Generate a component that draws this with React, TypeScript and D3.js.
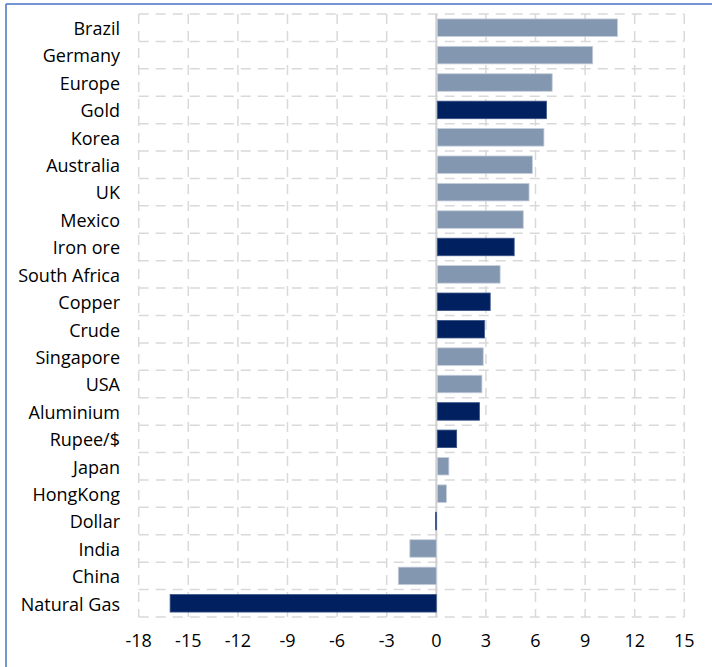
import * as d3 from 'd3'

const categories = [
  'Brazil', 'Germany', 'Europe', 'Gold', 'Korea', 'Australia', 'UK', 'Mexico', 'Iron ore',
  'South Africa', 'Copper', 'Crude', 'Singapore', 'USA', 'Aluminium', 'Rupee/$', 'Japan',
  'HongKong', 'Dollar', 'India', 'China', 'Natural Gas',
]
const values = [
  10.9, 9.4, 6.95, 6.6, 6.45, 5.75, 5.55, 5.2, 4.65, 3.8, 3.2, 2.85, 2.78, 2.7, 2.55, 1.17,
  0.7, 0.55, -0.05, -1.6, -2.3, -16.1,
]
// commodities / currencies are drawn dark
const darkItems = ['Gold', 'Iron ore', 'Copper', 'Crude', 'Aluminium', 'Rupee/$', 'Dollar', 'Natural Gas']
const xTicks = [-18, -15, -12, -9, -6, -3, 0, 3, 6, 9, 12, 15]

const W = 712
const H = 667
const plot = { left: 138.7, right: 684.3, top: 14, bottom: 617 }
const FONT = '"Open Sans", sans-serif'

export default function App() {
  const x = d3.scaleLinear().domain([-18, 15]).range([plot.left, plot.right])
  const y = d3.scaleBand<string>().domain(categories).range([plot.top, plot.bottom]).paddingInner(0.36).paddingOuter(0.18)
  const rows = d3.range(categories.length + 1).map((i) => plot.top + i * ((plot.bottom - plot.top) / categories.length))
  const grid = '#d9d9d9'

  return (
    <svg width={W} height={H} style={{ position: 'absolute', left: 0, top: 0, background: '#fff' }}>
      {/* frame edges */}
      <line x1={6} x2={W} y1={4} y2={4} stroke="#4472c4" strokeWidth={1.5} />
      <line x1={6} x2={6} y1={4} y2={H} stroke="#4472c4" strokeWidth={1.5} />

      {xTicks.filter((t) => t !== 0).map((t) => (
        <line key={'v' + t} x1={x(t)} x2={x(t)} y1={plot.top} y2={plot.bottom} stroke={grid} strokeWidth={1.5} strokeDasharray="10 7" />
      ))}
      {rows.map((r, i) => (
        <line key={'h' + i} x1={plot.left} x2={plot.right} y1={r} y2={r} stroke={grid} strokeWidth={1.5} strokeDasharray="10 7" />
      ))}
      <line x1={x(0)} x2={x(0)} y1={plot.top} y2={plot.bottom} stroke="#d0d0d0" strokeWidth={2} />

      {categories.map((c, i) => {
        const v = values[i]
        const x0 = x(Math.min(0, v))
        const w = Math.max(1, Math.abs(x(v) - x(0)))
        return (
          <rect
            key={c}
            x={v >= 0 ? x(0) + 1 : x0}
            y={y(c)}
            width={w}
            height={y.bandwidth()}
            fill={darkItems.includes(c) ? '#002060' : '#8497b0'}
            stroke={darkItems.includes(c) ? '#3b5488' : '#c5cfdc'}
            strokeWidth={0.8}
          />
        )
      })}

      {categories.map((c) => (
        <text key={'l' + c} x={120} y={(y(c) ?? 0) + y.bandwidth() / 2 + 1} dy="0.35em" textAnchor="end" fontFamily={FONT} fontSize={18} fill="#000">
          {c}
        </text>
      ))}

      {xTicks.map((t) => (
        <text key={'t' + t} x={x(t)} y={plot.bottom + 24} dy="0.35em" textAnchor="middle" fontFamily={FONT} fontSize={18} fill="#000">
          {t}
        </text>
      ))}
    </svg>
  )
}
